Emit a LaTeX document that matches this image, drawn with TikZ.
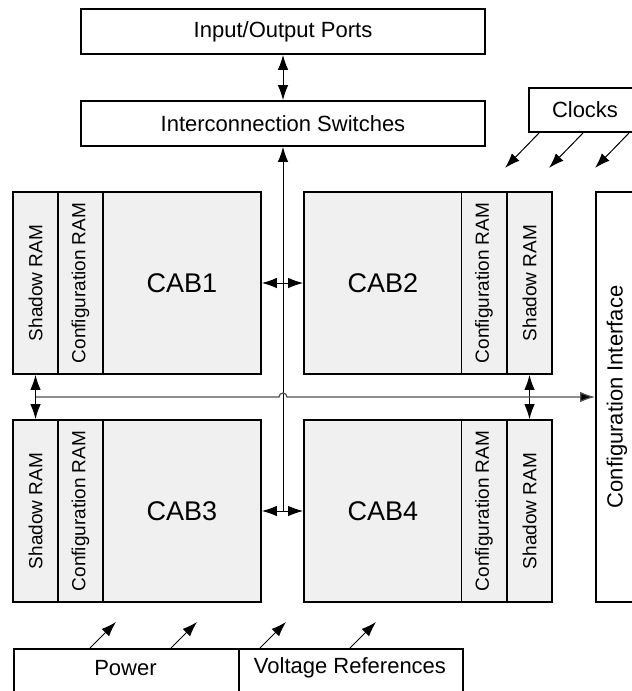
\documentclass[tikz,border=0pt]{standalone}
\usepackage{fontspec}
\setmainfont{Liberation Sans}
\usetikzlibrary{arrows.meta}
\definecolor{cellgray}{HTML}{F0F0F0}
\definecolor{busgray}{HTML}{505050}

\begin{document}
\begin{tikzpicture}[x=1pt,y=-1pt,
  box/.style={draw, line width=1.8pt, inner sep=0pt, font=\fontsize{22}{26}\selectfont},
  cell/.style={box, fill=cellgray},
  ram/.style={cell, rotate=90, minimum width=182, minimum height=45, font=\fontsize{19}{22}\selectfont},
  core/.style={cell, minimum width=158, minimum height=182, font=\fontsize{27}{32}\selectfont},
  link/.style={line width=1pt, {Latex[length=15pt,width=10.5pt]}-{Latex[length=15pt,width=10.5pt]}},
  feed/.style={line width=1pt, -{Latex[length=15pt,width=10.5pt]}},
  bus/.style={line width=1.2pt, draw=busgray, -{Latex[length=15pt,width=10.5pt,fill=black]}},
]
\useasboundingbox (0,0) rectangle (632,691);

% Top: ports and switch fabric
\node[box, minimum width=404, minimum height=45] (io) at (283,31.5) {Input/Output Ports};
\node[box, minimum width=404, minimum height=45] (sw) at (283,123.5) {Interconnection Switches};
\draw[link] (io.south) -- (sw.north);

% Clocks
\node[box, minimum width=112, minimum height=44] (clk) at (585,110) {Clocks};
\foreach \dx in {11,55,101}
  \draw[feed] ([xshift=\dx]clk.south west) -- ++(-34,35);

% CAB1
\node[ram] (sr1) at (35.5,283) {Shadow RAM};
\node[ram] (cr1) at (80.5,283) {Configuration RAM};
\node[core] (cab1) at (182,283) {CAB1};
% CAB2
\node[core] (cab2) at (383,283) {CAB2};
\node[ram] (cr2) at (484,283) {Configuration RAM};
\node[ram] (sr2) at (529.5,283) {Shadow RAM};
% CAB3
\node[ram] (sr3) at (35.5,511) {Shadow RAM};
\node[ram] (cr3) at (80.5,511) {Configuration RAM};
\node[core] (cab3) at (182,511) {CAB3};
% CAB4
\node[core] (cab4) at (383,511) {CAB4};
\node[ram] (cr4) at (484,511) {Configuration RAM};
\node[ram] (sr4) at (529.5,511) {Shadow RAM};

% Configuration interface on the right edge
\node[box, rotate=90, minimum width=410, minimum height=42] (cfg) at (617,397) {Configuration Interface};

% Central routing spine
\coordinate (hub) at (283,511);
\draw[feed] (hub) -- (sw.south);
\draw[link] (cab1.east) -- (cab2.west);
\draw[link] (cab3.east) -- (cab4.west);

% Shadow RAM transfer links and configuration bus
\draw[link] (sr1.west) -- (sr3.east);
\draw[link] (sr2.west) -- (sr4.east);
\coordinate (busL) at (36,397);
\draw[bus] (busL) -- (279,397) arc[start angle=180, end angle=360, radius=4] -- (cfg.north);

% Bottom: supplies
\node[box, minimum width=225, minimum height=60, anchor=north west] (pwr) at (13,648) {};
\node[box, minimum width=224, minimum height=60, anchor=north west] (vref) at (238,648) {};
\node[font=\fontsize{22}{26}\selectfont] (pwrtxt) at (125.5,668) {Power};
\node[font=\fontsize{22}{26}\selectfont] (vreftxt) at (350,668) {Voltage References};
\foreach \dx in {77,158}
  \draw[feed] ([xshift=\dx]pwr.north west) -- ++(26,-26);
\foreach \dx in {22,112}
  \draw[feed] ([xshift=\dx]vref.north west) -- ++(26,-26);
\end{tikzpicture}
\end{document}
